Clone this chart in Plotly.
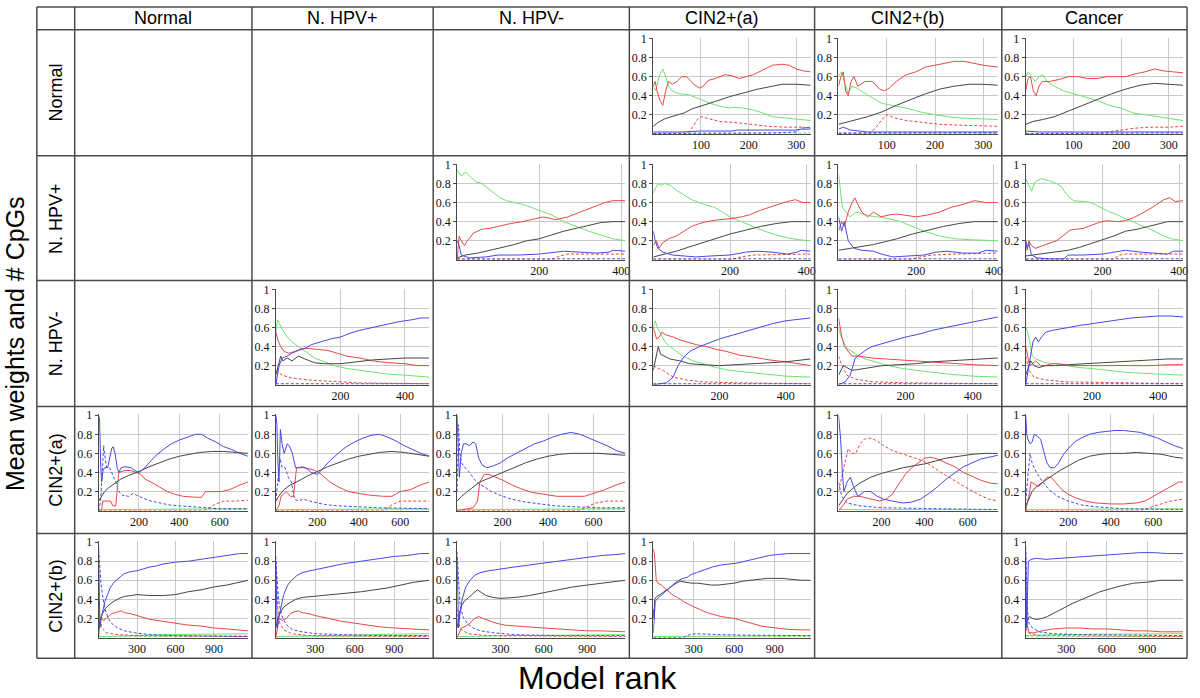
import plotly.graph_objects as go

W, H = 1200, 698

ROWS = ["Normal", "N. HPV+", "N. HPV-", "CIN2+(a)", "CIN2+(b)"]
COLS = ["Normal", "N. HPV+", "N. HPV-", "CIN2+(a)", "CIN2+(b)", "Cancer"]
ROW_XMAX = [330, 410, 475, 740, 1165]
ROW_XTICKS = [[100, 200, 300], [200, 400], [200, 400], [200, 400, 600], [300, 600, 900]]
Y_TICKS = [0.2, 0.4, 0.6, 0.8, 1.0]
Y_TICKTEXT = ["0.2", "0.4", "0.6", "0.8", "1"]

# ---------------- data: (rank, mean weight) points per series ----------------
# keys: r=red, rd=red dashed, g=green, gd=green dashed, b=blue, bd=blue dashed, k=black
N_CA = {
    "r": [(0,.5),(4,.55),(8,.45),(14,.35),(20,.3),(26,.45),(32,.55),(40,.52),(50,.55),(60,.6),(70,.6),(85,.52),(97,.48),(105,.5),(115,.56),(130,.58),(150,.62),(165,.61),(180,.58),(195,.6),(210,.62),(230,.67),(250,.72),(270,.73),(285,.72),(300,.68),(315,.66),(330,.65)],
    "g": [(0,.5),(5,.45),(12,.6),(20,.68),(26,.6),(32,.5),(40,.45),(55,.42),(75,.41),(90,.38),(100,.36),(120,.32),(140,.29),(160,.27),(170,.28),(190,.27),(210,.25),(230,.22),(250,.18),(270,.17),(300,.16),(330,.14)],
    "k": [(0,.08),(10,.12),(25,.16),(45,.19),(65,.22),(80,.26),(100,.29),(130,.34),(160,.39),(190,.43),(220,.47),(250,.5),(270,.52),(300,.52),(330,.51)],
    "rd": [(0,0),(70,0),(80,.05),(92,.15),(100,.18),(115,.16),(140,.13),(170,.12),(200,.1),(240,.08),(280,.07),(310,.07),(330,.06)],
    "b": [(0,.02),(60,.02),(100,.03),(165,.03),(175,.04),(300,.04),(310,.05),(330,.05)],
    "bd": [(0,.005),(250,.01),(300,.02),(310,.06),(330,.07)],
    "gd": [(0,.005),(330,.01)],
}
N_CB = {
    "r": [(0,.5),(5,.6),(10,.65),(15,.45),(20,.4),(26,.55),(32,.6),(40,.5),(55,.55),(70,.55),(85,.47),(95,.45),(105,.48),(120,.55),(140,.62),(160,.65),(180,.7),(210,.73),(240,.76),(260,.76),(280,.74),(300,.72),(330,.7)],
    "g": [(0,.6),(6,.65),(12,.55),(20,.42),(28,.5),(38,.48),(50,.44),(70,.38),(90,.32),(110,.3),(140,.27),(170,.23),(200,.2),(240,.17),(280,.16),(330,.15)],
    "k": [(0,.1),(15,.12),(30,.14),(60,.18),(90,.23),(120,.3),(150,.36),(180,.42),(210,.47),(240,.5),(270,.52),(300,.52),(330,.51)],
    "rd": [(0,0),(60,0),(75,.05),(90,.15),(100,.2),(115,.17),(140,.14),(170,.12),(210,.1),(260,.09),(300,.08),(330,.08)],
    "b": [(0,.05),(10,.07),(25,.04),(60,.02),(330,.02)],
    "bd": [(0,.01),(330,.01)],
    "gd": [(0,.005),(330,.01)],
}
N_CC = {
    "r": [(0,.45),(5,.58),(10,.6),(16,.45),(22,.4),(28,.5),(35,.55),(50,.55),(70,.57),(90,.6),(110,.6),(130,.58),(150,.58),(170,.6),(190,.6),(210,.6),(230,.63),(250,.65),(270,.68),(290,.66),(310,.65),(330,.64)],
    "g": [(0,.6),(6,.65),(12,.6),(20,.55),(28,.6),(36,.62),(45,.55),(60,.5),(80,.45),(100,.42),(125,.38),(150,.35),(175,.3),(200,.27),(225,.22),(250,.2),(290,.17),(330,.14)],
    "k": [(0,.1),(15,.13),(35,.15),(60,.18),(90,.24),(120,.3),(150,.36),(180,.42),(210,.47),(240,.51),(270,.53),(300,.52),(330,.51)],
    "rd": [(0,0),(150,0),(170,.02),(200,.04),(230,.06),(260,.07),(300,.07),(330,.08)],
    "b": [(0,.03),(30,.02),(330,.02)],
    "bd": [(0,.005),(330,.01)],
}
HP_HM = {
    "g": [(0,.95),(5,.9),(12,.88),(20,.92),(30,.88),(45,.82),(60,.8),(75,.75),(90,.7),(105,.65),(120,.62),(140,.6),(160,.58),(180,.55),(200,.52),(230,.47),(260,.4),(290,.35),(320,.3),(350,.26),(380,.22),(410,.2)],
    "r": [(0,0),(5,.25),(10,.2),(18,.15),(25,.2),(40,.28),(60,.32),(80,.33),(100,.35),(130,.38),(160,.4),(190,.43),(210,.45),(240,.42),(270,.45),(300,.5),(330,.55),(360,.6),(380,.62),(410,.62)],
    "k": [(0,.02),(20,.05),(50,.07),(80,.1),(110,.13),(140,.16),(170,.2),(200,.22),(230,.26),(260,.3),(290,.33),(320,.36),(350,.39),(380,.4),(410,.4)],
    "b": [(0,.2),(5,.15),(10,.05),(30,.02),(70,.03),(100,.05),(150,.05),(200,.06),(240,.08),(260,.09),(300,.08),(340,.07),(370,.08),(380,.1),(410,.09)],
    "rd": [(0,0),(230,0),(250,.04),(270,.06),(410,.06)],
    "bd": [(0,.01),(410,.01)],
}
HP_CA = {
    "g": [(0,.7),(5,.75),(12,.8),(20,.78),(30,.8),(45,.78),(60,.73),(80,.68),(100,.63),(120,.6),(140,.57),(160,.55),(180,.5),(200,.45),(230,.4),(260,.35),(290,.3),(320,.26),(350,.23),(380,.21),(410,.2)],
    "r": [(0,.15),(8,.2),(15,.12),(25,.18),(40,.22),(60,.25),(80,.3),(100,.35),(120,.38),(140,.4),(170,.42),(200,.43),(230,.45),(250,.47),(280,.52),(310,.56),(340,.6),(370,.63),(390,.6),(410,.6)],
    "k": [(0,.03),(30,.06),(60,.09),(90,.13),(120,.17),(160,.22),(200,.27),(240,.31),(280,.35),(320,.38),(360,.4),(410,.4)],
    "b": [(0,.3),(5,.2),(12,.12),(25,.08),(50,.05),(80,.04),(110,.03),(150,.04),(200,.05),(240,.08),(270,.09),(310,.08),(350,.06),(375,.08),(385,.1),(410,.09)],
    "rd": [(0,0),(200,0),(230,.03),(260,.05),(410,.06)],
    "bd": [(0,.01),(410,.01)],
}
HP_CB = {
    "g": [(0,.9),(5,.7),(10,.55),(20,.5),(30,.45),(45,.5),(60,.48),(80,.46),(100,.45),(130,.43),(160,.4),(190,.35),(220,.3),(260,.25),(300,.22),(340,.21),(410,.2)],
    "r": [(0,.3),(8,.4),(15,.35),(25,.5),(35,.6),(42,.65),(50,.58),(60,.5),(75,.45),(90,.5),(110,.45),(130,.47),(150,.48),(180,.46),(200,.45),(230,.47),(260,.5),(290,.55),(320,.58),(350,.62),(380,.6),(410,.6)],
    "k": [(0,.1),(30,.12),(60,.14),(90,.16),(120,.19),(150,.22),(190,.27),(230,.31),(270,.35),(310,.38),(350,.4),(410,.4)],
    "b": [(0,.45),(8,.3),(15,.4),(25,.2),(40,.12),(60,.1),(90,.09),(110,.06),(140,.03),(180,.04),(220,.05),(250,.08),(280,.09),(320,.07),(360,.07),(380,.1),(410,.09)],
    "rd": [(0,0),(180,0),(210,.03),(240,.05),(300,.06),(410,.07)],
    "bd": [(0,.01),(410,.01)],
}
HP_CC = {
    "g": [(0,.85),(8,.78),(15,.72),(25,.82),(40,.85),(60,.83),(80,.8),(95,.76),(100,.72),(115,.65),(125,.62),(150,.61),(170,.6),(185,.57),(200,.54),(220,.5),(240,.47),(260,.43),(280,.4),(300,.36),(320,.33),(340,.29),(360,.25),(380,.22),(410,.2)],
    "r": [(0,.2),(4,.1),(8,.2),(15,.15),(25,.12),(40,.14),(60,.17),(80,.2),(100,.26),(115,.31),(130,.32),(150,.33),(170,.36),(190,.39),(210,.41),(240,.4),(260,.41),(280,.44),(300,.48),(330,.55),(360,.63),(375,.65),(390,.61),(410,.62)],
    "k": [(0,.04),(40,.06),(80,.08),(110,.1),(140,.13),(170,.17),(200,.21),(230,.25),(260,.3),(290,.32),(320,.35),(350,.38),(370,.4),(410,.4)],
    "b": [(0,.2),(4,.12),(8,.18),(15,.05),(30,.02),(60,.01),(100,.01),(110,.05),(150,.05),(200,.06),(230,.08),(260,.1),(300,.08),(340,.07),(370,.06),(385,.09),(410,.09)],
    "rd": [(0,0),(225,0),(245,.05),(260,.06),(410,.06)],
    "bd": [(0,.01),(410,.01)],
}
HM_HP = {
    "b": [(0,0),(5,.1),(10,.2),(20,.28),(35,.3),(50,.33),(70,.36),(90,.38),(110,.42),(140,.45),(170,.48),(200,.5),(230,.54),(260,.57),(300,.6),(340,.63),(380,.66),(420,.68),(450,.7),(475,.7)],
    "g": [(0,.55),(5,.68),(10,.65),(20,.58),(35,.5),(50,.45),(70,.4),(90,.35),(120,.28),(150,.24),(180,.2),(220,.17),(260,.15),(300,.13),(350,.11),(400,.1),(475,.08)],
    "r": [(0,.55),(8,.45),(15,.4),(25,.35),(40,.33),(60,.35),(80,.38),(100,.38),(130,.37),(160,.36),(190,.33),(220,.3),(260,.28),(300,.25),(350,.23),(400,.22),(440,.2),(475,.2)],
    "k": [(0,.1),(8,.2),(15,.3),(22,.25),(35,.28),(50,.25),(70,.3),(90,.27),(120,.23),(150,.22),(200,.22),(250,.24),(300,.26),(350,.27),(400,.28),(475,.28)],
    "rd": [(0,.15),(20,.1),(50,.07),(100,.05),(150,.04),(250,.02),(350,.015),(475,.01)],
    "bd": [(0,.01),(475,.01)],
}
HM_CA = {
    "b": [(0,0),(40,.02),(60,.08),(75,.2),(90,.28),(110,.35),(140,.4),(170,.44),(200,.48),(240,.52),(280,.56),(320,.6),(360,.64),(400,.67),(440,.69),(475,.7)],
    "g": [(0,.6),(6,.67),(12,.6),(20,.55),(35,.45),(50,.4),(70,.35),(90,.3),(120,.25),(150,.22),(190,.18),(230,.15),(280,.13),(330,.11),(400,.09),(475,.08)],
    "r": [(0,.6),(5,.55),(10,.48),(18,.5),(25,.55),(40,.52),(60,.5),(80,.47),(100,.45),(130,.42),(160,.4),(190,.37),(220,.35),(260,.31),(300,.29),(350,.26),(400,.24),(440,.22),(475,.2)],
    "k": [(0,.15),(8,.3),(15,.4),(22,.32),(35,.3),(50,.27),(80,.25),(110,.22),(150,.21),(200,.2),(250,.21),(300,.22),(350,.23),(400,.24),(475,.27)],
    "rd": [(0,.2),(10,.18),(30,.15),(60,.08),(100,.05),(150,.03),(250,.02),(475,.01)],
    "bd": [(0,.01),(475,.01)],
}
HM_CB = {
    "b": [(0,0),(20,.03),(35,.1),(50,.28),(65,.32),(80,.36),(100,.4),(130,.43),(160,.46),(200,.5),(240,.53),(280,.57),(320,.6),(360,.63),(400,.66),(440,.69),(475,.71)],
    "g": [(0,.6),(8,.5),(15,.45),(25,.38),(40,.35),(60,.3),(80,.27),(110,.24),(150,.2),(190,.17),(230,.15),(280,.13),(330,.11),(400,.09),(475,.08)],
    "r": [(0,.7),(5,.6),(10,.5),(18,.4),(28,.35),(40,.3),(60,.3),(80,.29),(100,.28),(140,.27),(180,.26),(220,.25),(260,.24),(300,.23),(350,.22),(400,.21),(475,.2)],
    "k": [(0,.1),(8,.15),(15,.2),(25,.18),(40,.15),(60,.16),(90,.18),(130,.2),(180,.21),(230,.22),(280,.24),(330,.25),(380,.26),(430,.27),(475,.28)],
    "rd": [(0,.3),(10,.2),(25,.1),(50,.06),(100,.03),(200,.02),(475,.01)],
    "bd": [(0,.01),(475,.01)],
}
HM_CC = {
    "b": [(0,0),(8,.15),(15,.3),(22,.45),(30,.5),(38,.45),(48,.5),(60,.55),(80,.57),(100,.58),(130,.6),(160,.62),(200,.64),(240,.66),(280,.68),(320,.7),(360,.71),(400,.72),(440,.72),(475,.71)],
    "g": [(0,.6),(6,.55),(12,.45),(20,.3),(30,.27),(45,.25),(60,.23),(90,.22),(120,.2),(160,.18),(200,.17),(250,.15),(300,.13),(350,.12),(400,.11),(475,.1)],
    "r": [(0,.4),(6,.3),(12,.2),(20,.22),(30,.25),(45,.2),(60,.2),(80,.22),(100,.22),(130,.2),(180,.2),(230,.2),(280,.2),(330,.2),(380,.2),(430,.21),(475,.21)],
    "k": [(0,.1),(8,.18),(15,.25),(25,.2),(40,.18),(60,.2),(90,.2),(130,.21),(180,.22),(230,.23),(280,.24),(330,.25),(380,.26),(430,.27),(475,.27)],
    "rd": [(0,.3),(10,.15),(25,.08),(60,.05),(120,.03),(250,.02),(475,.01)],
    "bd": [(0,.01),(475,.01)],
}
CA_N = {
    "b": [(0,1.0),(5,.95),(10,.5),(15,.3),(22,.42),(30,.45),(45,.45),(55,.55),(65,.65),(72,.67),(82,.6),(92,.45),(100,.4),(112,.45),(130,.46),(160,.45),(180,.42),(200,.4),(220,.43),(250,.5),(280,.57),(320,.64),(360,.7),(400,.74),(440,.77),(480,.8),(510,.8),(540,.76),(580,.72),(620,.67),(660,.64),(700,.6),(740,.57)],
    "bd": [(0,0),(10,.1),(18,.4),(25,.68),(32,.55),(40,.45),(55,.45),(70,.38),(85,.3),(100,.2),(120,.16),(150,.15),(170,.18),(190,.16),(220,.13),(260,.1),(300,.08),(350,.06),(400,.05),(460,.04),(520,.03),(600,.02),(740,.02)],
    "r": [(0,0),(15,0),(20,.1),(60,.1),(70,.05),(85,.05),(100,.4),(130,.42),(160,.42),(190,.4),(210,.38),(230,.33),(260,.3),(300,.25),(340,.2),(380,.17),(420,.15),(480,.14),(510,.14),(530,.2),(570,.2),(610,.2),(650,.22),(690,.26),(740,.3)],
    "k": [(0,.1),(15,.15),(30,.2),(50,.24),(80,.29),(110,.33),(150,.37),(200,.41),(250,.46),(300,.5),(350,.54),(400,.57),(450,.59),(500,.61),(560,.62),(620,.62),(680,.61),(740,.6)],
    "rd": [(0,0),(520,0),(550,.03),(580,.07),(620,.1),(680,.1),(740,.11)],
    "g": [(0,.01),(500,.015),(600,.02),(740,.02)],
    "gd": [(0,.005),(740,.01)],
}
CA_HP = {
    "b": [(0,1.0),(5,.9),(10,.5),(15,.3),(22,.85),(30,.7),(40,.6),(55,.7),(65,.68),(80,.6),(95,.45),(110,.45),(130,.46),(150,.44),(170,.4),(200,.38),(230,.45),(260,.52),(300,.6),(340,.67),(380,.72),(420,.76),(460,.79),(500,.8),(540,.77),(580,.73),(620,.68),(660,.64),(700,.6),(740,.57)],
    "bd": [(0,.1),(10,.3),(20,.55),(30,.45),(45,.45),(60,.35),(75,.3),(90,.12),(110,.1),(130,.12),(160,.1),(200,.08),(250,.06),(300,.05),(400,.04),(500,.03),(740,.02)],
    "r": [(0,0),(15,.05),(25,.15),(50,.2),(70,.15),(85,.15),(100,.45),(130,.45),(160,.44),(190,.42),(220,.38),(260,.3),(300,.25),(350,.2),(400,.18),(460,.16),(520,.15),(560,.15),(600,.2),(650,.22),(700,.27),(740,.3)],
    "k": [(0,.1),(20,.17),(40,.22),(70,.27),(100,.3),(150,.36),(200,.41),(250,.46),(300,.5),(350,.54),(400,.57),(450,.59),(500,.61),(560,.62),(620,.61),(680,.59),(740,.57)],
    "rd": [(0,0),(520,0),(560,.06),(600,.1),(740,.1)],
    "g": [(0,.01),(740,.02)],
    "gd": [(0,.005),(740,.01)],
}
CA_HM = {
    "b": [(0,1.0),(5,.6),(10,.35),(18,.6),(28,.7),(40,.7),(55,.68),(70,.72),(82,.7),(95,.55),(110,.48),(130,.45),(160,.47),(190,.5),(220,.55),(260,.6),(300,.65),(340,.7),(380,.73),(420,.77),(460,.8),(500,.82),(540,.8),(580,.76),(620,.72),(660,.68),(700,.63),(740,.6)],
    "bd": [(0,.2),(6,.9),(12,.6),(20,.5),(35,.45),(55,.4),(75,.33),(95,.28),(120,.25),(150,.2),(190,.16),(240,.12),(300,.09),(360,.07),(430,.05),(520,.04),(620,.03),(740,.03)],
    "r": [(0,0),(40,.02),(70,.03),(90,.1),(100,.3),(120,.38),(140,.38),(170,.35),(200,.32),(240,.27),(280,.23),(330,.19),(380,.17),(440,.15),(500,.15),(560,.15),(600,.18),(650,.22),(700,.27),(740,.3)],
    "k": [(0,.1),(20,.15),(45,.2),(75,.26),(100,.3),(150,.35),(200,.4),(250,.45),(300,.5),(350,.54),(400,.57),(450,.59),(500,.6),(560,.6),(620,.6),(680,.59),(740,.58)],
    "rd": [(0,0),(540,0),(570,.04),(610,.08),(660,.1),(740,.1)],
    "g": [(0,.01),(740,.02)],
    "gd": [(0,.005),(740,.01)],
}
CA_CB = {
    "b": [(0,1.0),(5,.9),(10,.75),(18,.4),(25,.2),(40,.3),(55,.35),(70,.25),(90,.15),(120,.2),(150,.2),(180,.15),(210,.12),(250,.1),(300,.08),(340,.09),(380,.12),(420,.18),(460,.25),(500,.33),(540,.4),(580,.46),(620,.5),(660,.54),(700,.56),(740,.58)],
    "rd": [(0,.2),(15,.35),(30,.5),(45,.65),(60,.6),(80,.6),(100,.7),(120,.75),(150,.76),(180,.73),(210,.68),(250,.63),(290,.6),(330,.57),(370,.54),(410,.5),(450,.44),(490,.38),(530,.33),(570,.27),(610,.22),(650,.17),(700,.12),(740,.1)],
    "r": [(0,0),(20,.05),(40,.12),(70,.15),(100,.15),(150,.12),(190,.1),(220,.12),(250,.17),(280,.28),(310,.38),(340,.45),(370,.5),(400,.55),(430,.56),(460,.54),(500,.5),(540,.46),(580,.4),(620,.36),(660,.32),(700,.29),(740,.28)],
    "k": [(0,.05),(20,.12),(40,.18),(70,.24),(100,.29),(150,.35),(200,.39),(250,.42),(300,.45),(350,.47),(400,.49),(450,.52),(500,.55),(560,.57),(620,.59),(680,.6),(740,.6)],
    "bd": [(0,.3),(15,.15),(40,.08),(100,.05),(200,.03),(400,.02),(740,.01)],
    "g": [(0,.01),(740,.01)],
}
CA_CC = {
    "b": [(0,1.0),(5,.8),(10,.75),(20,.7),(30,.72),(40,.8),(55,.78),(70,.75),(85,.62),(100,.5),(115,.45),(135,.45),(155,.5),(175,.58),(200,.65),(230,.72),(260,.76),(300,.8),(340,.82),(380,.83),(420,.84),(460,.84),(500,.83),(540,.82),(580,.79),(620,.76),(660,.72),(700,.68),(740,.65)],
    "k": [(0,.05),(15,.12),(30,.2),(50,.25),(80,.3),(120,.36),(160,.42),(200,.47),(250,.53),(300,.57),(350,.59),(400,.6),(460,.6),(520,.61),(580,.6),(640,.59),(700,.56),(740,.55)],
    "r": [(0,0),(15,.15),(25,.3),(40,.28),(60,.25),(80,.3),(100,.35),(120,.35),(140,.3),(170,.22),(200,.17),(240,.13),(280,.1),(330,.08),(400,.07),(460,.07),(520,.08),(560,.1),(600,.15),(640,.2),(680,.25),(720,.3),(740,.3)],
    "bd": [(0,.1),(10,.4),(20,.6),(30,.5),(50,.4),(80,.3),(110,.22),(150,.15),(200,.1),(260,.06),(330,.04),(450,.02),(740,.01)],
    "rd": [(0,0),(540,0),(580,.03),(620,.06),(680,.1),(740,.12)],
    "g": [(0,.01),(740,.02)],
}
CB_N = {
    "b": [(0,.95),(5,.5),(10,.1),(20,.2),(35,.3),(50,.38),(70,.45),(90,.52),(120,.58),(160,.63),(200,.67),(250,.69),(300,.7),(350,.72),(400,.74),(450,.75),(500,.77),(600,.79),(700,.8),(800,.82),(900,.84),(1000,.86),(1100,.88),(1165,.88)],
    "bd": [(0,.92),(10,.7),(20,.55),(35,.4),(50,.3),(75,.2),(100,.15),(150,.1),(200,.07),(280,.05),(400,.03),(600,.02),(1165,.01)],
    "k": [(0,.1),(15,.2),(30,.25),(50,.3),(80,.34),(120,.38),(160,.41),(200,.43),(250,.44),(300,.45),(400,.44),(500,.44),(600,.45),(700,.48),(800,.5),(900,.53),(1000,.55),(1100,.58),(1165,.6)],
    "r": [(0,0),(10,.15),(20,.2),(40,.18),(60,.2),(80,.22),(100,.25),(130,.26),(160,.27),(180,.28),(200,.26),(250,.25),(300,.23),(350,.21),(400,.19),(500,.17),(600,.15),(700,.13),(800,.12),(900,.1),(1000,.09),(1100,.08),(1165,.07)],
    "rd": [(0,.3),(10,.2),(25,.1),(60,.05),(150,.03),(300,.02),(1165,.01)],
    "g": [(0,.01),(200,.02),(500,.03),(800,.035),(1165,.04)],
    "gd": [(0,.005),(1165,.02)],
}
CB_HP = {
    "b": [(0,.8),(5,.4),(10,.1),(20,.2),(35,.3),(60,.45),(90,.55),(120,.6),(160,.65),(200,.68),(260,.7),(320,.72),(400,.74),(500,.77),(600,.79),(700,.81),(800,.83),(900,.85),(1000,.86),(1100,.88),(1165,.88)],
    "bd": [(0,.8),(10,.6),(20,.4),(40,.25),(60,.18),(90,.12),(130,.08),(200,.06),(300,.04),(500,.03),(800,.02),(1165,.02)],
    "k": [(0,.1),(15,.2),(30,.25),(60,.32),(100,.36),(150,.4),(200,.42),(280,.43),(350,.44),(450,.45),(550,.46),(650,.48),(750,.5),(850,.52),(950,.55),(1050,.58),(1165,.6)],
    "r": [(0,0),(10,.1),(25,.2),(50,.18),(80,.2),(110,.25),(140,.27),(170,.28),(200,.26),(250,.25),(300,.23),(400,.2),(500,.17),(600,.15),(700,.13),(800,.11),(900,.1),(1000,.09),(1165,.08)],
    "rd": [(0,.85),(8,.5),(15,.3),(30,.15),(60,.08),(120,.04),(250,.02),(1165,.01)],
    "g": [(0,.01),(300,.02),(700,.03),(1165,.04)],
    "gd": [(0,.005),(1165,.02)],
}
CB_HM = {
    "b": [(0,.85),(5,.3),(10,.1),(20,.25),(35,.4),(60,.53),(90,.6),(120,.65),(160,.68),(220,.7),(300,.72),(400,.74),(500,.76),(600,.78),(700,.8),(800,.82),(900,.84),(1000,.86),(1100,.87),(1165,.88)],
    "k": [(0,.1),(15,.25),(30,.33),(50,.38),(80,.42),(110,.46),(140,.5),(170,.47),(200,.44),(250,.42),(300,.41),(400,.42),(500,.44),(600,.47),(700,.5),(800,.53),(900,.55),(1000,.57),(1100,.59),(1165,.6)],
    "r": [(0,0),(15,.05),(30,.1),(60,.12),(90,.15),(120,.2),(150,.22),(180,.2),(220,.18),(270,.15),(330,.13),(400,.12),(500,.11),(600,.1),(700,.09),(800,.08),(900,.07),(1000,.07),(1165,.06)],
    "bd": [(0,.9),(10,.6),(20,.35),(40,.22),(70,.15),(110,.1),(160,.07),(250,.05),(400,.03),(700,.02),(1165,.02)],
    "rd": [(0,.3),(10,.15),(30,.08),(80,.04),(200,.02),(1165,.01)],
    "g": [(0,.01),(400,.02),(1165,.03)],
}
CB_CA = {
    "r": [(0,.93),(8,.88),(15,.75),(22,.6),(35,.57),(60,.55),(90,.51),(120,.47),(150,.44),(180,.42),(220,.38),(260,.35),(300,.32),(350,.29),(400,.26),(450,.24),(500,.22),(550,.21),(600,.2),(650,.18),(700,.16),(750,.14),(800,.12),(850,.11),(900,.1),(950,.09),(1000,.085),(1100,.08),(1165,.08)],
    "b": [(0,.05),(8,.2),(15,.38),(25,.4),(40,.42),(70,.45),(100,.5),(130,.53),(160,.57),(190,.6),(220,.62),(250,.63),(280,.66),(320,.68),(380,.71),(440,.74),(500,.76),(560,.77),(620,.78),(680,.8),(740,.82),(800,.84),(860,.86),(920,.87),(1000,.88),(1100,.88),(1165,.88)],
    "k": [(0,.3),(5,.2),(10,.4),(25,.43),(50,.45),(80,.48),(110,.51),(140,.54),(170,.57),(200,.59),(230,.58),(280,.57),(330,.57),(380,.56),(430,.55),(480,.55),(540,.56),(600,.57),(660,.59),(720,.6),(780,.61),(840,.62),(900,.62),(960,.62),(1020,.61),(1100,.6),(1165,.6)],
    "bd": [(0,0),(220,0),(250,.02),(280,.035),(320,.04),(400,.035),(500,.03),(700,.025),(1165,.02)],
    "g": [(0,.01),(1165,.02)],
    "gd": [(0,.005),(1165,.01)],
}
CB_CC = {
    "b": [(0,.9),(4,.4),(8,.1),(14,.5),(20,.8),(40,.82),(80,.83),(150,.82),(250,.83),(350,.84),(450,.85),(550,.86),(650,.87),(750,.88),(850,.89),(950,.89),(1050,.88),(1165,.88)],
    "bd": [(0,.95),(6,.5),(12,.3),(25,.15),(50,.1),(100,.06),(200,.04),(400,.03),(1165,.02)],
    "k": [(0,.1),(15,.2),(30,.22),(50,.2),(80,.19),(120,.2),(160,.22),(200,.25),(250,.28),(300,.32),(350,.36),(400,.39),(450,.42),(500,.45),(550,.48),(600,.5),(700,.54),(800,.57),(900,.58),(1000,.6),(1100,.6),(1165,.6)],
    "r": [(0,.4),(6,.25),(12,.12),(25,.05),(60,.05),(120,.07),(200,.09),(300,.1),(400,.1),(500,.09),(600,.09),(700,.08),(800,.07),(900,.07),(1000,.06),(1165,.06)],
    "rd": [(0,.1),(20,.05),(100,.02),(1165,.01)],
    "g": [(0,.02),(200,.03),(500,.035),(800,.04),(1165,.04)],
    "gd": [(0,.005),(1165,.01)],
}

# (row index, column index, data)
CHARTS = [
    (0, 3, N_CA), (0, 4, N_CB), (0, 5, N_CC),
    (1, 2, HP_HM), (1, 3, HP_CA), (1, 4, HP_CB), (1, 5, HP_CC),
    (2, 1, HM_HP), (2, 3, HM_CA), (2, 4, HM_CB), (2, 5, HM_CC),
    (3, 0, CA_N), (3, 1, CA_HP), (3, 2, CA_HM), (3, 4, CA_CB), (3, 5, CA_CC),
    (4, 0, CB_N), (4, 1, CB_HP), (4, 2, CB_HM), (4, 3, CB_CA), (4, 5, CB_CC),
]

# ---------------- styles & geometry ----------------
RED, GREEN, BLUE, BLACK = "rgb(232,72,72)", "rgb(110,228,110)", "rgb(72,72,228)", "rgb(70,70,70)"
STYLE = {
    "g": (GREEN, "solid"), "gd": (GREEN, "3px,2px"),
    "rd": (RED, "3px,2px"), "bd": (BLUE, "3px,2px"),
    "r": (RED, "solid"), "k": (BLACK, "solid"), "b": (BLUE, "solid"),
}
DRAW_ORDER = ["gd", "g", "rd", "bd", "r", "k", "b"]

COL_EDGES = [37, 75, 253, 435, 632, 818, 1006, 1192]
ROW_EDGES = [1, 24, 151, 277, 404, 532, 658]
LINE_COLOR = "#4a4a4a"
GRID = "#c9c9c9"
SERIF = "Liberation Serif, Times New Roman, serif"
SANS = "Liberation Sans, Arial, sans-serif"

def px_x(p):
    return p / W

def px_y(p):
    return 1 - p / H

fig = go.Figure()
layout_axes = {}
for i, (r, c, data) in enumerate(CHARTS, start=1):
    sx = "" if i == 1 else str(i)
    for key in DRAW_ORDER:
        if key not in data:
            continue
        color, dash = STYLE[key]
        fig.add_trace(go.Scatter(
            x=[p[0] for p in data[key]], y=[p[1] for p in data[key]],
            mode="lines", line=dict(color=color, width=1, dash=dash),
            xaxis="x" + sx, yaxis="y" + sx, showlegend=False, hoverinfo="skip",
        ))
    left, right = COL_EDGES[c + 1], COL_EDGES[c + 2]
    top = ROW_EDGES[r + 1]
    layout_axes["xaxis" + sx] = dict(
        domain=[px_x(left + 24), px_x(right - 4)], anchor="y" + sx,
        range=[0, ROW_XMAX[r]], tickvals=ROW_XTICKS[r],
        showgrid=True, gridcolor=GRID, gridwidth=1, zeroline=False,
        showline=True, linecolor=LINE_COLOR, linewidth=1, ticks="",
        tickfont=dict(family=SERIF, size=12, color="#111"), fixedrange=True,
    )
    layout_axes["yaxis" + sx] = dict(
        domain=[px_y(top + 105), px_y(top + 8)], anchor="x" + sx,
        range=[0, 1.008], tickvals=Y_TICKS, ticktext=Y_TICKTEXT,
        showgrid=True, gridcolor=GRID, gridwidth=1, zeroline=False,
        showline=True, linecolor=LINE_COLOR, linewidth=1,
        ticks="outside", ticklen=3, tickcolor=LINE_COLOR,
        tickfont=dict(family=SERIF, size=12, color="#111"), fixedrange=True,
    )

shapes = []
for yv in ROW_EDGES:
    shapes.append(dict(type="line", xref="paper", yref="paper",
                       x0=px_x(COL_EDGES[0]), x1=px_x(COL_EDGES[-1]), y0=px_y(yv), y1=px_y(yv),
                       line=dict(color=LINE_COLOR, width=1.5)))
for xv in COL_EDGES:
    shapes.append(dict(type="line", xref="paper", yref="paper",
                       x0=px_x(xv), x1=px_x(xv), y0=px_y(ROW_EDGES[0]), y1=px_y(ROW_EDGES[-1]),
                       line=dict(color=LINE_COLOR, width=1.5)))

annotations = []
for j, name in enumerate(COLS):
    annotations.append(dict(text=name, xref="paper", yref="paper",
                            x=px_x((COL_EDGES[j + 1] + COL_EDGES[j + 2]) / 2), y=px_y(12.5),
                            xanchor="center", yanchor="middle", showarrow=False,
                            font=dict(family=SANS, size=18, color="#000")))
for j, name in enumerate(ROWS):
    annotations.append(dict(text=name, xref="paper", yref="paper", textangle=-90,
                            x=px_x((COL_EDGES[0] + COL_EDGES[1]) / 2), y=px_y((ROW_EDGES[j + 1] + ROW_EDGES[j + 2]) / 2),
                            xanchor="center", yanchor="middle", showarrow=False,
                            font=dict(family=SANS, size=18, color="#000")))
annotations.append(dict(text="Model rank", xref="paper", yref="paper", x=px_x(600), y=px_y(678),
                        xanchor="center", yanchor="middle", showarrow=False, borderpad=0,
                        font=dict(family=SANS, size=32, color="#000")))
annotations.append(dict(text="Mean weights and # CpGs", xref="paper", yref="paper", textangle=-90,
                        x=px_x(15), y=px_y(340), xanchor="center", yanchor="middle", showarrow=False,
                        font=dict(family=SANS, size=25, color="#000")))

fig.update_layout(
    width=W, height=H, margin=dict(l=0, r=0, t=0, b=0),
    paper_bgcolor="white", plot_bgcolor="white",
    shapes=shapes, annotations=annotations, **layout_axes,
)
fig.write_html(
    "out.html",
    config={"displayModeBar": False},
    post_script="document.body.style.margin='0';document.body.style.padding='0';"
                "document.documentElement.style.overflow='hidden';",
)
